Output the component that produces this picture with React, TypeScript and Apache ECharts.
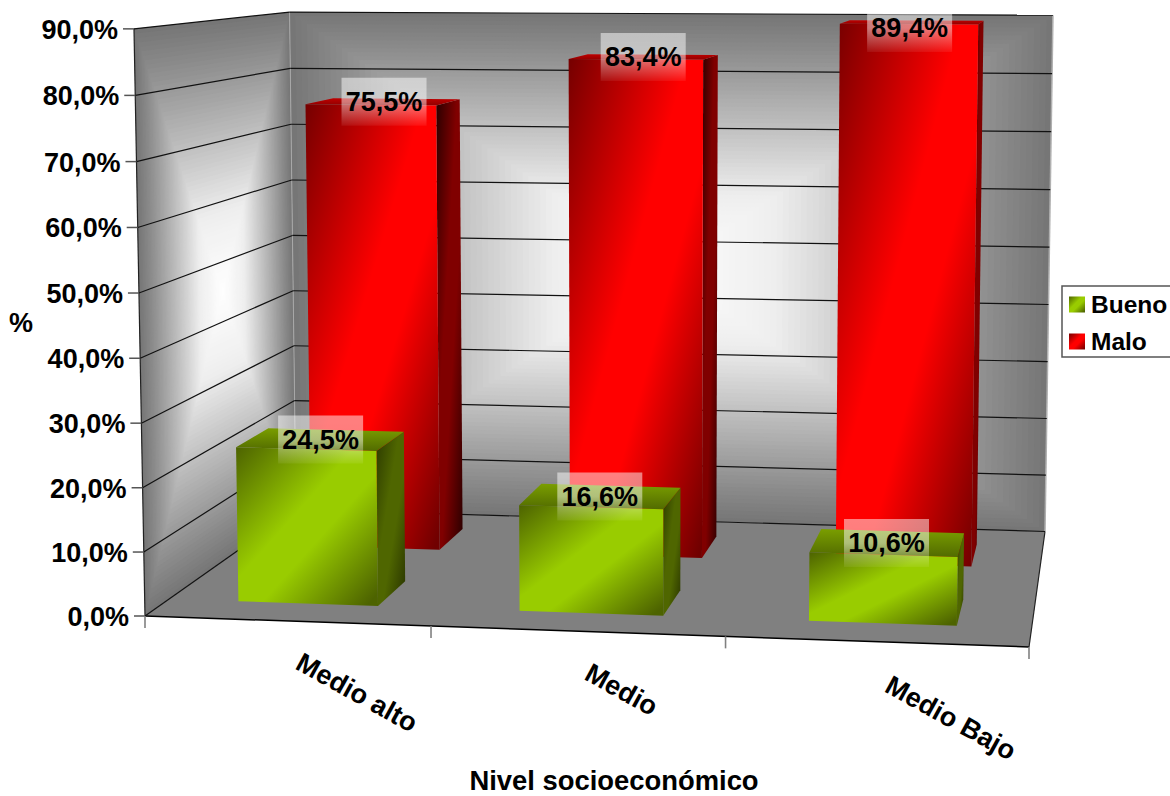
import React, { useEffect, useRef } from "react";
import * as echarts from "echarts";

const categories = ["Medio alto", "Medio", "Medio Bajo"];
const buenoValues = [24.5, 16.6, 10.6];
const maloValues = [75.5, 83.4, 89.4];
const yTicks = [0, 10, 20, 30, 40, 50, 60, 70, 80, 90];
const categoryBoundaries = [0, 1, 2, 3];
const FONT = '"Liberation Sans", Arial, sans-serif';

type Pt = [number, number];

// Camera model of the plot box: the floor quad fixes the u/v part of the projective
// matrix, the vertical vanishing point and the last term fix the t column.
const A: Pt = [145, 616];
const B: Pt = [1029, 647];
const C: Pt = [1045, 531.5];
const D: Pt = [296, 509.5];
const dx1 = B[0] - C[0], dx2 = D[0] - C[0], sx = A[0] - B[0] + C[0] - D[0];
const dy1 = B[1] - C[1], dy2 = D[1] - C[1], sy = A[1] - B[1] + C[1] - D[1];
const den = dx1 * dy2 - dx2 * dy1;
const g = (sx * dy2 - dx2 * sy) / den;
const h = (dx1 * sy - sx * dy1) / den;
const m11 = B[0] - A[0] + g * B[0], m12 = D[0] - A[0] + h * D[0];
const m21 = B[1] - A[1] + g * B[1], m22 = D[1] - A[1] + h * D[1];
const TILT = -0.02185;
const VERTICAL_VP: Pt = [638, 26900];

// u: category position, v: depth, t: share of the value axis height.
function project(u: number, v: number, t: number): Pt {
  const w = g * u + h * v + TILT * t + 1;
  return [
    (m11 * u + m12 * v + A[0] + TILT * VERTICAL_VP[0] * t) / w,
    (m21 * u + m22 * v + A[1] + TILT * VERTICAL_VP[1] * t) / w,
  ];
}

// Depth band of each series inside the plot box.
const DEPTH_BUENO: Pt = [0.14, 0.35];
const DEPTH_MALO: Pt = [0.64, 0.85];

const grad = (x: number, y: number, x2: number, y2: number, stops: [number, string][]) =>
  new echarts.graphic.LinearGradient(x, y, x2, y2, stops.map(([offset, color]) => ({ offset, color })));

const redFront = () => grad(0, 0, 1, 1, [[0, "#750000"], [0.44, "#ff0000"], [0.6, "#ff0000"], [0.98, "#700000"]]);
const redSide = () => grad(0, 0, 1, 1, [[0, "#2a0000"], [0.4, "#800000"], [0.6, "#800000"], [1, "#2a0000"]]);
const redTop = () => grad(0, 0, 0, 1, [[0, "#c00000"], [1, "#900000"]]);
const greenFront = () => grad(0, 0, 1, 1, [[0, "#4d6300"], [0.42, "#99cc00"], [0.58, "#99cc00"], [0.96, "#4d6300"]]);
const greenSide = () => grad(0, 0, 1, 1, [[0, "#2c3a00"], [0.4, "#4f6600"], [0.6, "#4f6600"], [1, "#283300"]]);
const greenTop = () => grad(0, 0, 0, 1, [[0, "#7a9e00"], [1, "#526b00"]]);

// Brightness of the walls, from the centre (0) to the rim (1).
function wallShade(s: number) {
  const stops: Pt[] = [[0, 255], [0.3, 238], [0.9, 134], [1, 118]];
  for (let i = 1; i < stops.length; i++) {
    if (s <= stops[i][0]) {
      const r = (s - stops[i - 1][0]) / (stops[i][0] - stops[i - 1][0]);
      const c = Math.round(stops[i - 1][1] + (stops[i][1] - stops[i - 1][1]) * r);
      return `rgb(${c},${c},${c})`;
    }
  }
  return "rgb(118,118,118)";
}

function wallRings(map: (a: number, b: number) => Pt) {
  const rings: any[] = [];
  const N = 64;
  for (let k = 0; k < N; k++) {
    const s = 1 - k / N;
    const lo = 0.5 - s / 2, hi = 0.5 + s / 2;
    rings.push({
      type: "polygon",
      shape: { points: [map(lo, lo), map(hi, lo), map(hi, hi), map(lo, hi)] },
      style: { fill: wallShade(s) },
    });
  }
  return rings;
}

const seg = (a: Pt, b: Pt, stroke: string, lineWidth: number) => ({
  type: "line",
  shape: { x1: a[0], y1: a[1], x2: b[0], y2: b[1] },
  style: { stroke, lineWidth },
});

function renderWalls() {
  return {
    type: "group",
    children: [
      ...wallRings((a, b) => project(0, a, b)),
      ...wallRings((a, b) => project(a, 1, b)),
      {
        type: "polygon",
        shape: { points: [project(0, 0, 0), project(1, 0, 0), project(1, 1, 0), project(0, 1, 0)] },
        style: { fill: "#808080" },
      },
      seg(project(0, 1, 0), project(0, 1, 1), "#a8a8a8", 1),
      seg(project(1, 1, 0), project(1, 1, 1), "#b0b0b0", 1.5),
      seg(project(0, 0, 0), project(0, 0, 1), "#222222", 1.2),
      seg(project(0, 0, 0), project(1, 0, 0), "#000000", 1.5),
      seg(project(1, 0, 0), project(1, 1, 0), "#222222", 1.2),
    ],
  };
}

function renderGridLine(params: any, api: any) {
  const v = api.value(0);
  const base = api.coord([0, 0])[1];
  const top = api.coord([0, 90])[1];
  const t = (base - api.coord([0, v])[1]) / (base - top);
  const front = project(0, 0, t);
  return {
    type: "group",
    children: [
      seg(front, project(0, 1, t), "#111111", 1.2),
      seg(project(0, 1, t), project(1, 1, t), "#111111", 1.2),
      seg([front[0] - 11, front[1]], front, "#555555", 1.5),
    ],
  };
}

function renderBoundary(params: any, api: any) {
  const p = project(api.value(0) / categories.length, 0, 0);
  return seg(p, [p[0], p[1] + 12], "#808080", 1.6);
}

function barRenderer(depth: Pt, front: () => any, side: () => any, topFace: () => any) {
  return (params: any, api: any) => {
    const cs = params.coordSys;
    const idx = api.value(0);
    const val = api.value(1);
    const baseP = api.coord([idx, 0]);
    const topP = api.coord([idx, val]);
    const fullP = api.coord([idx, 90]);
    const t = (baseP[1] - topP[1]) / (baseP[1] - fullP[1]);
    const uc = (baseP[0] - cs.x) / cs.width;
    const half = api.size([1, 0])[0] / 4 / cs.width;
    const u0 = uc - half, u1 = uc + half;
    const [d0, d1] = depth;

    const frontPts = [project(u0, d0, 0), project(u1, d0, 0), project(u1, d0, t), project(u0, d0, t)];
    const sidePts = [project(u1, d0, 0), project(u1, d1, 0), project(u1, d1, t), project(u1, d0, t)];
    const topPts = [project(u0, d0, t), project(u1, d0, t), project(u1, d1, t), project(u0, d1, t)];

    const xs = [...frontPts, ...sidePts].map((p) => p[0]);
    const cx = (Math.min(...xs) + Math.max(...xs)) / 2;
    const ys = topPts.map((p) => p[1]);
    const cy = Math.max((Math.min(...ys) + Math.max(...ys)) / 2, 28);

    const w = 85, hgt = 48;
    return {
      type: "group",
      children: [
        { type: "polygon", shape: { points: sidePts }, style: { fill: side() } },
        { type: "polygon", shape: { points: topPts }, style: { fill: topFace() } },
        { type: "polygon", shape: { points: frontPts }, style: { fill: front() } },
        {
          type: "rect",
          shape: { x: cx - w / 2, y: cy - hgt / 2, width: w, height: hgt },
          style: {
            fill: grad(0, 0, 0, 1, [
              [0, "rgba(255,255,255,0.5)"],
              [0.5, "rgba(255,255,255,0.48)"],
              [1, "rgba(255,255,255,0.06)"],
            ]),
          },
        },
        {
          type: "text",
          style: {
            x: cx,
            y: cy,
            text: val.toFixed(1).replace(".", ",") + "%",
            font: `bold 27px ${FONT}`,
            fill: "#000000",
            align: "center",
            verticalAlign: "middle",
          },
        },
      ],
    };
  };
}

export default function App() {
  const ref = useRef<HTMLDivElement>(null);

  useEffect(() => {
    const chart = echarts.init(ref.current!, undefined, { renderer: "svg" });
    const gridTop = 29, gridHeight = 587;
    const yRich: Record<string, any> = {};
    yTicks.forEach((v) => {
      // Labels follow the receding front edge of the left wall.
      const t = v / 90;
      const edge = project(0, 0, t);
      const linearY = gridTop + gridHeight * (1 - t);
      yRich["t" + v] = {
        fontFamily: FONT,
        fontSize: 27,
        fontWeight: "bold",
        color: "#000000",
        padding: [Math.max(0, 2 * (edge[1] - linearY)) + 2, A[0] - edge[0], 0, 0],
      };
    });
    const xPad = [
      [0, 7],
      [24, 7],
      [40, 18],
    ];
    const xRich: Record<string, any> = {};
    xPad.forEach(([top, left], i) => {
      xRich["c" + i] = {
        fontFamily: FONT,
        fontSize: 27,
        fontWeight: "bold",
        color: "#000000",
        padding: [top, 0, 0, left],
      };
    });

    chart.setOption({
      animation: false,
      backgroundColor: "#ffffff",
      textStyle: { fontFamily: FONT },
      grid: {
        left: A[0],
        top: gridTop,
        width: B[0] - A[0],
        height: gridHeight,
        containLabel: false,
        outerBoundsMode: "none",
      },
      legend: {
        left: 1062,
        top: 286,
        orient: "vertical",
        padding: [6, 20, 3, 7],
        itemWidth: 16,
        itemHeight: 16,
        itemGap: 12,
        backgroundColor: "#ffffff",
        borderColor: "#555555",
        borderWidth: 1.5,
        textStyle: { fontFamily: FONT, fontSize: 24.5, fontWeight: "bold", color: "#000000", padding: [0, 0, 0, 1] },
        data: [
          { name: "Bueno", icon: "rect", itemStyle: { color: greenFront() } },
          { name: "Malo", icon: "rect", itemStyle: { color: redFront() } },
        ],
      },
      xAxis: {
        type: "category",
        data: categories,
        axisLine: { show: false },
        axisTick: { show: false },
        splitLine: { show: false },
        axisLabel: {
          interval: 0,
          rotate: -29,
          margin: 41,
          formatter: (v: string) => `{c${categories.indexOf(v)}|${v}}`,
          rich: xRich,
        },
        name: "Nivel socioeconómico",
        nameLocation: "middle",
        nameGap: 152,
        nameMoveOverlap: false,
        nameTextStyle: {
          fontFamily: FONT,
          fontSize: 27.4,
          fontWeight: "bold",
          color: "#000000",
          lineHeight: 24,
          padding: [0, 0, 0, 54],
        },
      },
      yAxis: {
        type: "value",
        min: 0,
        max: 90,
        interval: 10,
        axisLine: { show: false },
        axisTick: { show: false },
        splitLine: { show: false },
        axisLabel: {
          margin: 16,
          formatter: (v: number) => `{t${v}|${v.toFixed(1).replace(".", ",")}%}`,
          rich: yRich,
        },
        name: "%",
        nameLocation: "middle",
        nameRotate: 0,
        nameGap: 112,
        nameMoveOverlap: false,
        nameTextStyle: {
          fontFamily: FONT,
          fontSize: 27,
          fontWeight: "bold",
          color: "#000000",
          padding: [22, 0, 0, 0],
        },
      },
      series: [
        {
          name: "Bueno",
          type: "custom",
          z: 5,
          color: "#99cc00",
          renderItem: barRenderer(DEPTH_BUENO, greenFront, greenSide, greenTop),
          encode: { x: 0, y: 1 },
          data: buenoValues.map((v, i) => [i, v]),
        },
        {
          name: "Malo",
          type: "custom",
          z: 4,
          color: "#ff0000",
          renderItem: barRenderer(DEPTH_MALO, redFront, redSide, redTop),
          encode: { x: 0, y: 1 },
          data: maloValues.map((v, i) => [i, v]),
        },
        {
          name: "walls",
          type: "custom",
          z: 1,
          silent: true,
          renderItem: renderWalls,
          encode: { x: 0, y: 1 },
          data: [[0, 0]],
        },
        {
          name: "gridlines",
          type: "custom",
          z: 2,
          silent: true,
          renderItem: renderGridLine,
          encode: { y: 0 },
          data: yTicks.map((v) => [v]),
        },
        {
          name: "boundaries",
          type: "custom",
          z: 2,
          silent: true,
          renderItem: renderBoundary,
          data: categoryBoundaries.map((v) => [v]),
        },
      ],
    });
    return () => chart.dispose();
  }, []);

  return (
    <div
      ref={ref}
      style={{ position: "absolute", left: 0, top: 0, width: 1170, height: 796 }}
    />
  );
}
